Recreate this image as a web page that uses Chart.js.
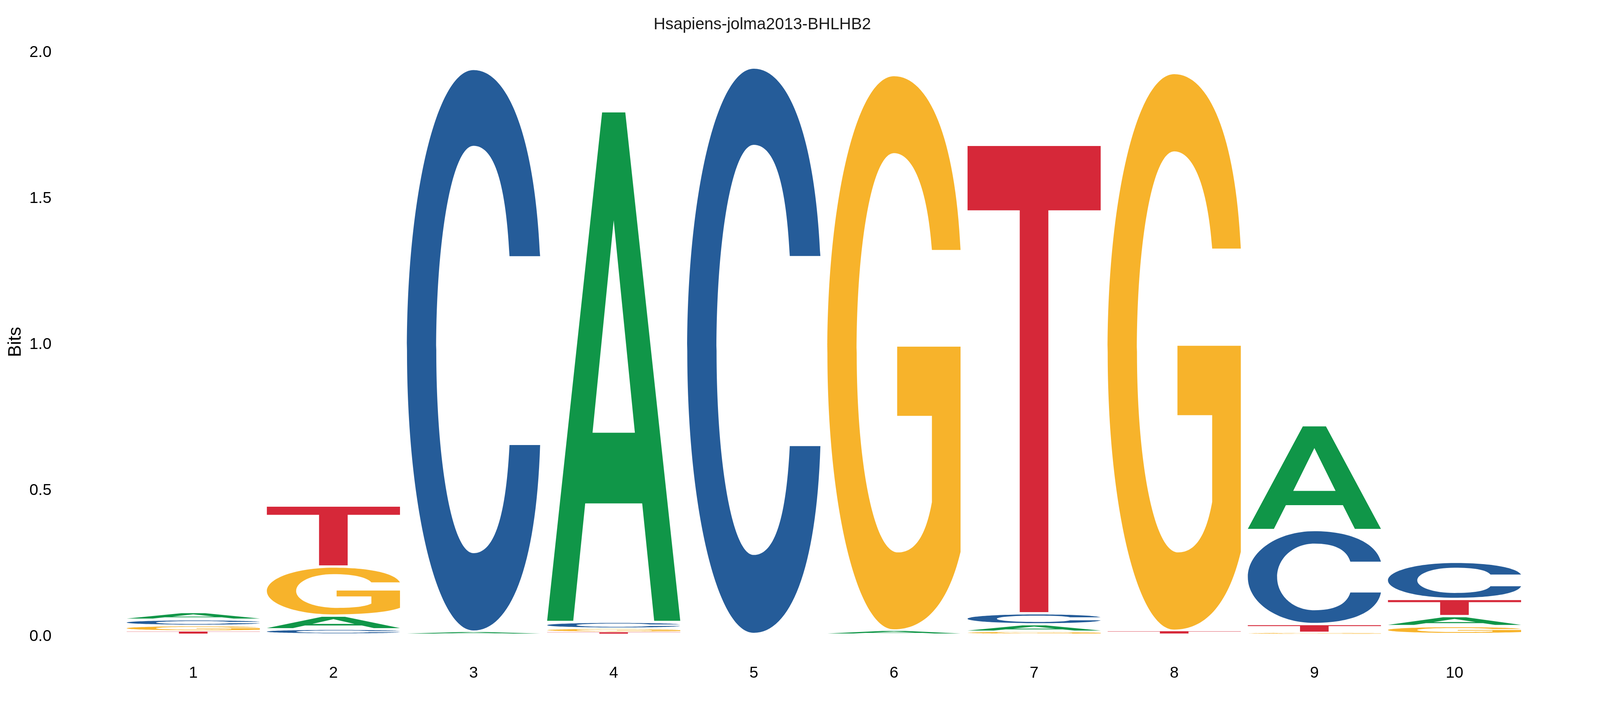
<!DOCTYPE html>
<html>
<head>
<meta charset="utf-8">
<script src="https://cdn.jsdelivr.net/npm/chart.js@4.4.1/dist/chart.umd.min.js"></script>
<style>
  html, body { margin: 0; padding: 0; background: #fff; overflow: hidden; }
  #wrap { position: absolute; left: 0; top: 0; width: 100vw; height: 100vh; }
</style>
</head>
<body>
<div id="wrap"><canvas id="logo"></canvas></div>
<script>
// information content (bits) per letter, per position
const positions = ['1', '2', '3', '4', '5', '6', '7', '8', '9', '10'];
const bitsA = [0.026, 0.047, 0.008, 1.749, 0.000, 0.012, 0.025, 0.000, 0.359, 0.034];
const bitsC = [0.020, 0.016, 1.927, 0.022, 1.940, 0.000, 0.038, 0.000, 0.322, 0.127];
const bitsG = [0.019, 0.168, 0.000, 0.012, 0.000, 1.902, 0.008, 1.910, 0.004, 0.027];
const bitsT = [0.010, 0.209, 0.000, 0.007, 0.000, 0.000, 1.604, 0.011, 0.030, 0.059];
const yTicks = [0, 0.5, 1, 1.5, 2];

const letters = ['A', 'C', 'G', 'T'];
const letterColors = { A: '#109648', C: '#255C99', G: '#F7B32B', T: '#D62839' };

// layout was measured on a 4350x1829 picture, scale to the real window
const W = window.innerWidth, H = window.innerHeight;
const sx = W / 4350, sy = H / 1829;
const sf = Math.sqrt(sx * sy);

// smallest letter at the bottom, biggest on top -> one dataset per rank
const heights = { A: bitsA, C: bitsC, G: bitsG, T: bitsT };
const rankLetters = [[], [], [], []];
const rankValues = [[], [], [], []];
positions.forEach((p, i) => {
    const order = letters.slice().sort((a, b) => heights[a][i] - heights[b][i]);
    order.forEach((l, r) => {
        rankLetters[r].push(l);
        rankValues[r].push(heights[l][i]);
    });
});

// helvetica-bold-ish outlines in a unit box (y up)
const glyphs = {
    A: [
        ['M', 0, 0], ['L', 0.413, 1], ['L', 0.587, 1], ['L', 1, 0], ['L', 0.804, 0],
        ['L', 0.714, 0.231], ['L', 0.286, 0.231], ['L', 0.196, 0], ['Z'],
        ['M', 0.341, 0.370], ['L', 0.5, 0.788], ['L', 0.659, 0.370], ['Z']
    ],
    C: [
        ['M', 1, 0.668],
        ['C', 0.96, 0.88, 0.76, 1, 0.5, 1],
        ['C', 0.224, 1, 0, 0.776, 0, 0.5],
        ['C', 0, 0.224, 0.224, 0, 0.5, 0],
        ['C', 0.77, 0, 0.97, 0.11, 1, 0.331],
        ['L', 0.77, 0.331],
        ['C', 0.74, 0.19, 0.64, 0.138, 0.5, 0.138],
        ['C', 0.34, 0.138, 0.22, 0.3, 0.22, 0.5],
        ['C', 0.22, 0.7, 0.34, 0.865, 0.5, 0.865],
        ['C', 0.64, 0.865, 0.74, 0.81, 0.77, 0.668],
        ['Z']
    ],
    G: [
        ['M', 1, 0.686],
        ['C', 0.96, 0.89, 0.76, 1, 0.5, 1],
        ['C', 0.224, 1, 0, 0.776, 0, 0.5],
        ['C', 0, 0.224, 0.224, 0, 0.5, 0],
        ['C', 0.72, 0, 0.9, 0.04, 1, 0.14],
        ['L', 1, 0.511], ['L', 0.524, 0.511], ['L', 0.524, 0.386],
        ['L', 0.785, 0.386], ['L', 0.785, 0.23],
        ['C', 0.74, 0.17, 0.66, 0.139, 0.53, 0.139],
        ['C', 0.35, 0.139, 0.22, 0.3, 0.22, 0.5],
        ['C', 0.22, 0.7, 0.34, 0.861, 0.5, 0.861],
        ['C', 0.64, 0.861, 0.75, 0.8, 0.785, 0.686],
        ['Z']
    ],
    T: [
        ['M', 0, 1], ['L', 1, 1], ['L', 1, 0.862], ['L', 0.607, 0.862], ['L', 0.607, 0],
        ['L', 0.392, 0], ['L', 0.392, 0.862], ['L', 0, 0.862], ['Z']
    ]
};

function drawLetter(ctx, ch, left, top, w, h) {
    const px = x => left + x * w;
    const py = y => top + (1 - y) * h;
    ctx.beginPath();
    glyphs[ch].forEach(c => {
        if (c[0] === 'M') ctx.moveTo(px(c[1]), py(c[2]));
        else if (c[0] === 'L') ctx.lineTo(px(c[1]), py(c[2]));
        else if (c[0] === 'C') ctx.bezierCurveTo(px(c[1]), py(c[2]), px(c[3]), py(c[4]), px(c[5]), py(c[6]));
        else ctx.closePath();
    });
    ctx.fillStyle = letterColors[ch];
    ctx.fill('evenodd');
}

// stretch each letter into its (invisible) bar
const glyphPlugin = {
    id: 'glyphs',
    afterDatasetsDraw(chart) {
        const ctx = chart.ctx;
        ctx.save();
        chart.data.datasets.forEach((ds, di) => {
            chart.getDatasetMeta(di).data.forEach((bar, i) => {
                const { x, y, base, width } = bar.getProps(['x', 'y', 'base', 'width'], true);
                const h = base - y;
                if (h < 0.5) return;
                const inset = Math.min(3 * sy, h * 0.15);
                drawLetter(ctx, ds.letters[i], x - width / 2, y + inset, width, h - 2 * inset);
            });
        });
        ctx.restore();
    }
};

Chart.defaults.font.family = '"Liberation Sans", Arial, sans-serif';
Chart.defaults.color = '#000';

new Chart(document.getElementById('logo'), {
    type: 'bar',
    data: {
        labels: positions,
        datasets: rankValues.map((vals, r) => ({
            label: 'rank ' + (r + 1),
            data: vals,
            letters: rankLetters[r],
            backgroundColor: 'rgba(0,0,0,0)',
            borderWidth: 0,
            stack: 'logo',
            categoryPercentage: 1,
            barPercentage: 0.95
        }))
    },
    options: {
        responsive: true,
        maintainAspectRatio: false,
        animation: false,
        layout: { padding: { left: 0, right: 205 * sx, top: 0, bottom: 0 } },
        scales: {
            x: {
                stacked: true,
                grid: { display: false, drawTicks: false },
                border: { display: false },
                ticks: { font: { size: 42 * sf }, padding: 76 * sy },
                afterFit: s => {
                    s.height = 205 * sy;
                    s.paddingLeft = 0;
                    s.paddingRight = 0;
                }
            },
            y: {
                stacked: true,
                min: 0,
                max: 2,
                grid: { display: false, drawTicks: false },
                border: { display: false },
                afterBuildTicks: s => { s.ticks = yTicks.map(v => ({ value: v })); },
                ticks: {
                    font: { size: 42 * sf },
                    padding: 195 * sx,
                    labelOffset: 7 * sy,
                    callback: v => Number(v).toFixed(1)
                },
                title: {
                    display: true,
                    text: 'Bits',
                    font: { size: 48 * sf },
                    padding: { top: 43 * sx - 28.8 * sf, bottom: 0 }
                },
                afterFit: s => {
                    // tick padding would otherwise also be reserved above and below the plot
                    s.width = 335 * sx;
                    s.paddingTop = 0;
                    s.paddingBottom = 0;
                }
            }
        },
        plugins: {
            legend: { display: false },
            tooltip: { enabled: false },
            title: {
                display: true,
                text: 'Hsapiens-jolma2013-BHLHB2',
                color: '#1a1a1a',
                font: { size: 43 * sf, weight: 'normal' },
                padding: { top: 63 * sy - 25.8 * sf, bottom: 128 * sy - 63 * sy - 25.8 * sf }
            }
        }
    },
    plugins: [glyphPlugin]
});
</script>
</body>
</html>
